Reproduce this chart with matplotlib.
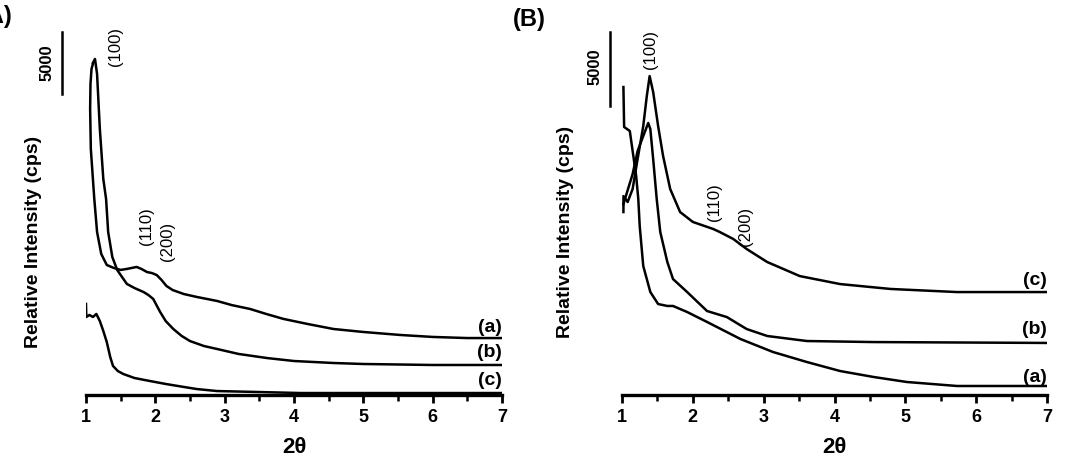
import matplotlib
matplotlib.use("Agg")
import matplotlib.pyplot as plt
from matplotlib.ticker import MultipleLocator

plt.rcParams['font.family'] = ['Liberation Sans', 'DejaVu Sans']

# ---- Panel A data (2theta, intensity in cps) ----
a_x_a = [1.10, 1.08, 1.065, 1.06, 1.07, 1.10, 1.12, 1.16, 1.22, 1.30, 1.40, 1.50, 1.59, 1.66,
         1.73, 1.80, 1.88, 1.95, 2.02, 2.09, 2.16, 2.25, 2.41, 2.60, 2.89, 3.10, 3.37, 3.60,
         3.85, 4.20, 4.57, 5.00, 5.53, 6.00, 6.50, 7.00]
a_y_a = [26680, 26280, 25070, 23050, 19830, 17410, 15800, 13140, 11370, 10480, 10240, 10080,
         10160, 10240, 10320, 10160, 9910, 9830, 9670, 9270, 8790, 8460, 8140, 7900, 7580,
         7250, 6930, 6530, 6130, 5720, 5320, 5080, 4840, 4680, 4590, 4590]

a_x_b = [1.10, 1.13, 1.16, 1.20, 1.25, 1.29, 1.32, 1.38, 1.45, 1.52, 1.59, 1.70, 1.83, 1.90,
         1.97, 2.07, 2.15, 2.26, 2.38, 2.50, 2.70, 2.89, 3.20, 3.61, 4.00, 4.57, 5.00, 6.00, 7.00]
a_y_b = [26760, 27080, 25870, 21440, 17410, 15800, 13140, 11120, 10080, 9510, 8950, 8620,
         8300, 8060, 7740, 6690, 5960, 5320, 4760, 4350, 3950, 3710, 3310, 2980, 2740, 2580,
         2500, 2420, 2420]

a_x_c = [1.00, 1.005, 1.05, 1.10, 1.15, 1.20, 1.25, 1.30, 1.35, 1.39, 1.46, 1.54, 1.70, 1.92,
         2.15, 2.41, 2.60, 2.89, 3.50, 4.10, 5.00, 6.00, 7.00]
a_y_c = [7340, 6290, 6450, 6290, 6530, 5960, 5160, 4270, 3060, 2340, 1930, 1690, 1370, 1130,
         890, 650, 480, 320, 240, 160, 160, 160, 160]

# ---- Panel B data ----
b_x_a = [1.02, 1.03, 1.11, 1.16, 1.20, 1.23, 1.25, 1.30, 1.40, 1.51, 1.64, 1.72, 1.92, 2.20,
         2.67, 3.13, 3.61, 4.08, 4.55, 5.02, 5.73, 6.44, 7.00]
b_y_a = [20820, 18120, 17850, 16160, 14800, 13250, 11420, 8720, 6960, 6150, 6020, 6020, 5610,
         4940, 3790, 2910, 2230, 1620, 1220, 880, 610, 610, 610]

b_x_b = [1.02, 1.15, 1.22, 1.30, 1.37, 1.40, 1.44, 1.49, 1.54, 1.64, 1.72, 1.92, 2.20, 2.48,
         2.76, 3.05, 3.61, 4.55, 7.00]
b_y_b = [12910, 14940, 16490, 17510, 18390, 17980, 15950, 13250, 11020, 8990, 7840, 6960,
         5680, 5270, 4460, 3990, 3650, 3580, 3520]

b_x_c = [1.02, 1.021, 1.08, 1.15, 1.22, 1.30, 1.35, 1.39, 1.44, 1.51, 1.58, 1.68, 1.82, 2.00,
         2.29, 2.38, 2.57, 2.76, 3.05, 3.51, 4.08, 4.79, 5.73, 7.00]
b_y_c = [12370, 13450, 13050, 13930, 15950, 18180, 20210, 21560, 20480, 18180, 16160, 13930,
         12370, 11700, 11220, 11020, 10550, 9870, 8990, 8040, 7500, 7170, 6960, 6960]

xticks = [1, 2, 3, 4, 5, 6, 7]
hkl = ['(100)', '(110)', '(200)']


def style_axis(ax, ymax):
    ax.set_xlim(1, 7)
    ax.set_ylim(0, ymax)
    for s in ['top', 'right', 'left']:
        ax.spines[s].set_visible(False)
    ax.spines['bottom'].set_linewidth(2.4)
    ax.set_yticks([])
    ax.set_xticks(xticks)
    ax.xaxis.set_minor_locator(MultipleLocator(0.5))
    ax.tick_params(axis='x', which='major', direction='out', length=6, width=2,
                   labelsize=13, pad=3)
    ax.tick_params(axis='x', which='minor', direction='out', length=4, width=1.8)
    for lab in ax.get_xticklabels():
        lab.set_fontweight('bold')
    ax.set_xlabel('2θ', fontsize=16, fontweight='bold', labelpad=8.5)
    ax.set_ylabel('Relative Intensity (cps)', fontsize=14, fontweight='bold')
    ax.patch.set_visible(False)


fig = plt.figure(figsize=(10.68, 4.6), dpi=100)
axA = fig.add_axes([0.0805, 0.1391, 0.3895, 0.8174])
axB = fig.add_axes([0.5824, 0.1391, 0.398, 0.8174])

lw = 1.8
# Panel A
axA.plot(a_x_a, a_y_a, color='black', lw=lw)
axA.plot(a_x_b, a_y_b, color='black', lw=lw)
axA.plot(a_x_c, a_y_c, color='black', lw=lw)
style_axis(axA, 30300)
axA.plot([0.654, 0.654], [24260, 29260], color='black', lw=1.8, clip_on=False)
axA.text(0.445, 26880, '5000', rotation=90, ha='center', va='center', fontsize=12,
         fontweight='bold')
for lab, y in zip(['(a)', '(b)', '(c)'], [5560, 3470, 1290]):
    axA.text(7.0, y, lab, ha='right', va='center', fontsize=14, fontweight='bold')
for lab, x, y in zip(hkl, [1.42, 1.87, 2.18], [28130, 13700, 12490]):
    axA.text(x, y, lab, rotation=90, ha='center', va='center', fontsize=12)
axA.yaxis.set_label_coords(-0.106, 0.41)

# Panel B
axB.plot(b_x_a, b_y_a, color='black', lw=lw)
axB.plot(b_x_b, b_y_b, color='black', lw=lw)
axB.plot(b_x_c, b_y_c, color='black', lw=lw)
style_axis(axB, 25420)
axB.plot([0.83, 0.83], [19540, 24540], color='black', lw=1.8, clip_on=False)
axB.text(0.619, 22270, '5000', rotation=90, ha='center', va='center', fontsize=12,
         fontweight='bold')
for lab, y in zip(['(c)', '(b)', '(a)'], [7840, 4530, 1280]):
    axB.text(7.0, y, lab, ha='right', va='center', fontsize=14, fontweight='bold')
for lab, x, y in zip(hkl, [1.40, 2.31, 2.74], [23460, 13110, 11490]):
    axB.text(x, y, lab, rotation=90, ha='center', va='center', fontsize=12)
axB.yaxis.set_label_coords(-0.113, 0.436)

fig.text(0.012, 0.965, '(A)', ha='right', va='center', fontsize=17, fontweight='bold')
fig.text(0.480, 0.958, '(B)', ha='left', va='center', fontsize=17, fontweight='bold')

fig.savefig('out.png', dpi=100)
